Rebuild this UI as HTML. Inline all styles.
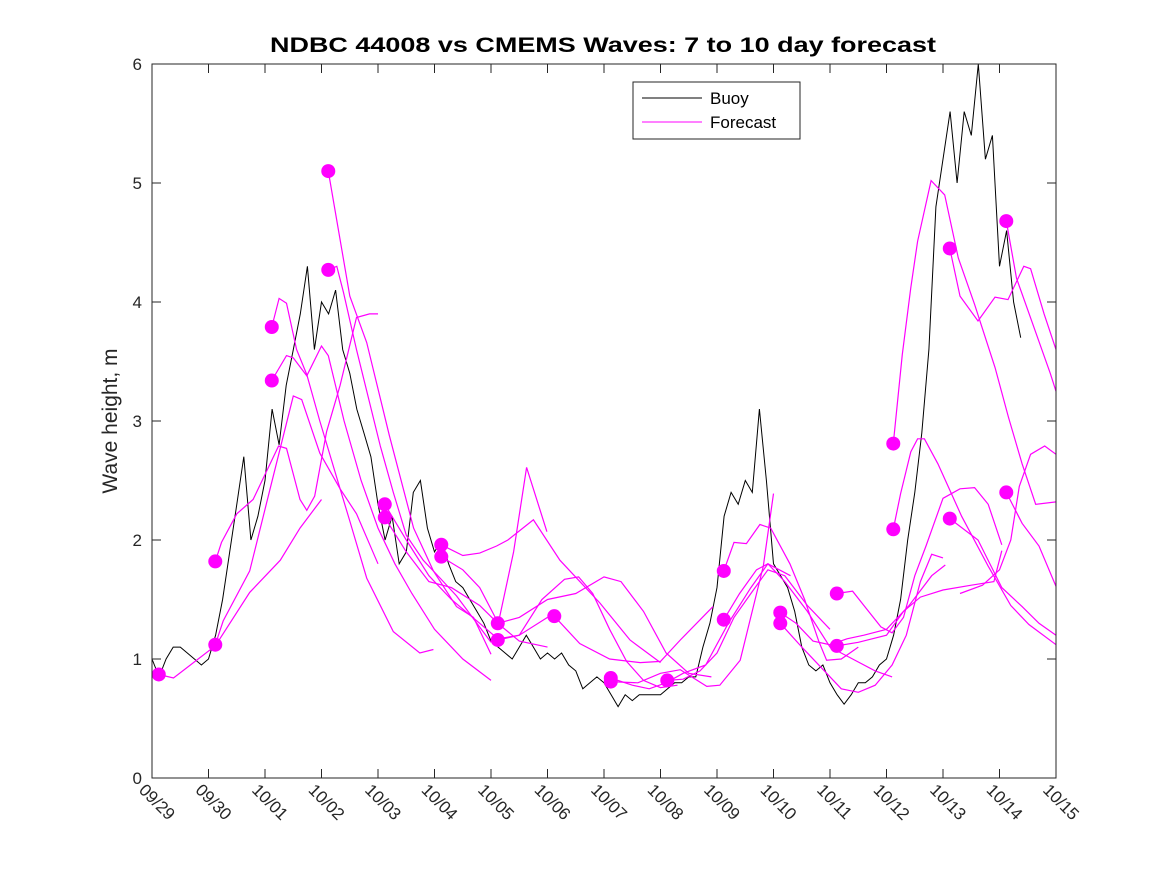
<!DOCTYPE html>
<html><head><meta charset="utf-8"><style>
html,body{margin:0;padding:0;background:#fff;}
svg{display:block;font-family:"Liberation Sans",sans-serif;}
</style></head><body>
<svg id="chart" width="1167" height="875" viewBox="0 0 1167 875" xmlns="http://www.w3.org/2000/svg">
<rect x="0" y="0" width="1167" height="875" fill="#fff"/>
<text x="603" y="52" text-anchor="middle" font-size="21" font-weight="bold" textLength="666" lengthAdjust="spacingAndGlyphs" fill="#000">NDBC 44008 vs CMEMS Waves: 7 to 10 day forecast</text>
<text transform="translate(117,421) rotate(-90)" text-anchor="middle" font-size="21" fill="#262626">Wave height, m</text>
<g id="plot"></g>
<g id="axes"></g>
<g>
<rect x="633" y="82" width="167" height="57" fill="#fff" stroke="#262626" stroke-width="1"/>
<line x1="642" y1="98" x2="702" y2="98" stroke="#000" stroke-width="1"/>
<text x="710" y="104" font-size="17" fill="#000">Buoy</text>
<line x1="642" y1="122" x2="702" y2="122" stroke="#ff00ff" stroke-width="1"/>
<text x="710" y="128" font-size="17" fill="#000">Forecast</text>
</g>
</svg>
<script>
const xTickLabels = ["09/29","09/30","10/01","10/02","10/03","10/04","10/05","10/06","10/07","10/08","10/09","10/10","10/11","10/12","10/13","10/14","10/15"];
const yTicks = [0,1,2,3,4,5,6];
const buoyStep = 0.125;
const buoyValues = [1.0,0.85,1.0,1.1,1.1,1.05,1.0,0.95,1.0,
1.2,1.5,1.9,2.3,2.7,2.0,2.2,2.5,
3.1,2.8,3.3,3.6,3.9,4.3,3.6,4.0,
3.9,4.1,3.6,3.4,3.1,2.9,2.7,2.3,
2.0,2.2,1.8,1.9,2.4,2.5,2.1,1.9,
2.0,1.8,1.65,1.6,1.5,1.4,1.3,1.15,
1.1,1.05,1.0,1.1,1.2,1.1,1.0,1.05,
1.0,1.05,0.95,0.9,0.75,0.8,0.85,0.8,
0.7,0.6,0.7,0.65,0.7,0.7,0.7,0.7,
0.75,0.8,0.8,0.85,0.85,1.1,1.3,1.6,
2.2,2.4,2.3,2.5,2.4,3.1,2.5,1.8,
1.7,1.6,1.4,1.1,0.95,0.9,0.95,0.8,
0.7,0.62,0.7,0.8,0.8,0.85,0.95,1.0,
1.2,1.5,2.0,2.4,2.9,3.6,4.8,5.2,
5.6,5.0,5.6,5.4,6.0,5.2,5.4,4.3,
4.6,4.0,3.7];
const dotDays = [0.12,1.12,1.12,2.12,2.12,3.12,3.12,4.12,4.12,5.12,5.12,6.12,6.12,7.12,8.12,8.12,9.12,10.12,10.12,11.12,11.12,12.12,12.12,13.12,13.12,14.12,14.12,15.12,15.12];
const dotValues = [0.87,1.12,1.82,3.79,3.34,5.1,4.27,2.3,2.19,1.96,1.86,1.3,1.16,1.36,0.84,0.81,0.82,1.74,1.33,1.39,1.3,1.55,1.11,2.81,2.09,4.45,2.18,4.68,2.4];
const forecast1 = [[0.12,0.87],[0.38,0.84],[1.12,1.11],[1.73,1.56],[2.27,1.83],[2.62,2.1],[3.0,2.34]];
const forecast2 = [[1.12,1.12],[1.26,1.32],[1.73,1.74],[2.09,2.43],[2.5,3.21],[2.65,3.18],[2.97,2.73],[3.33,2.43],[3.62,2.22],[4.0,1.8]];
const forecast3 = [[1.12,1.82],[1.23,1.98],[1.5,2.22],[1.79,2.34],[2.24,2.79],[2.38,2.77],[2.62,2.34],[2.74,2.25],[2.88,2.37],[3.09,2.91],[3.33,3.3],[3.62,3.87],[3.85,3.9],[4.0,3.9]];
const forecast4 = [[2.12,3.79],[2.25,4.03],[2.38,3.99],[2.56,3.6],[2.74,3.39],[2.97,3.0],[3.33,2.43],[3.5,2.16],[3.8,1.68],[4.27,1.23],[4.74,1.05],[4.98,1.08]];
const forecast5 = [[2.12,3.34],[2.38,3.55],[2.5,3.53],[2.74,3.38],[3.0,3.63],[3.12,3.55],[3.4,3.0],[3.7,2.5],[4.0,2.1],[4.3,1.8],[4.6,1.55],[5.0,1.25],[5.5,1.0],[6.0,0.82]];
const forecast6 = [[3.12,5.1],[3.5,4.05],[3.8,3.66],[4.2,2.88],[4.63,2.1],[4.98,1.74],[5.39,1.44],[5.69,1.35],[6.0,1.04]];
const forecast7 = [[3.12,4.27],[3.27,4.3],[3.39,4.08],[3.62,3.6],[4.04,2.79],[4.27,2.4],[4.5,2.04],[4.8,1.83],[5.1,1.68],[5.39,1.53],[6.0,1.14]];
const forecast8 = [[4.12,2.3],[4.5,2.0],[4.9,1.7],[5.3,1.5],[5.8,1.3],[6.12,1.17],[6.5,1.2],[7.0,1.35]];
const forecast9 = [[4.12,2.19],[4.5,1.9],[4.9,1.65],[5.3,1.6],[5.8,1.45],[6.12,1.3],[6.5,1.15],[7.0,1.1]];
const forecast10 = [[5.12,1.96],[5.5,1.87],[5.8,1.89],[6.1,1.95],[6.3,2.0],[6.75,2.17],[7.22,1.83],[7.93,1.47],[8.46,1.16],[9.0,0.97]];
const forecast11 = [[5.12,1.86],[5.5,1.75],[5.8,1.6],[6.13,1.3],[6.4,1.9],[6.63,2.61],[6.99,2.07]];
const forecast12 = [[6.12,1.16],[6.5,1.2],[6.9,1.5],[7.3,1.67],[7.55,1.69],[7.8,1.55],[8.1,1.25],[8.4,0.98],[8.7,0.82],[9.0,0.76],[9.3,0.78]];
const forecast13 = [[6.12,1.3],[6.5,1.35],[7.0,1.5],[7.5,1.55],[8.0,1.69],[8.3,1.65],[8.7,1.4],[9.1,1.05],[9.5,0.88],[9.9,0.85]];
const forecast14 = [[7.12,1.36],[7.57,1.13],[8.1,1.0],[8.64,0.97],[9.0,0.98],[9.35,1.16],[9.93,1.44]];
const forecast15 = [[8.12,0.84],[8.5,0.78],[8.8,0.75],[9.1,0.8],[9.4,0.88],[9.8,0.95],[10.2,1.3],[10.6,1.6],[10.9,1.8],[11.3,1.7]];
const forecast16 = [[8.12,0.81],[8.6,0.8],[9.0,0.88],[9.35,0.91],[9.82,0.77],[10.05,0.78],[10.41,0.99],[10.82,1.78],[11.0,2.39]];
const forecast17 = [[9.12,0.82],[9.4,0.83],[9.7,0.9],[10.0,1.05],[10.3,1.35],[10.6,1.55],[10.9,1.75],[11.2,1.7],[11.6,1.45],[12.0,1.25]];
const forecast18 = [[10.12,1.74],[10.3,1.98],[10.52,1.97],[10.76,2.13],[10.95,2.1],[11.29,1.8],[11.55,1.5],[11.8,1.15],[11.94,0.99],[12.2,1.0],[12.5,1.1]];
const forecast19 = [[10.12,1.33],[10.4,1.55],[10.7,1.75],[10.9,1.8],[11.2,1.65],[11.6,1.4],[12.0,1.1],[12.4,1.0],[12.8,0.9],[13.1,0.85]];
const forecast20 = [[11.12,1.39],[11.4,1.3],[11.7,1.15],[12.0,1.12],[12.3,1.17],[12.6,1.2],[13.0,1.25],[13.4,1.45],[13.8,1.7],[14.04,1.79]];
const forecast21 = [[11.12,1.3],[11.5,1.1],[11.9,0.9],[12.2,0.75],[12.5,0.72],[12.8,0.78],[13.1,0.95],[13.35,1.2],[13.6,1.65],[13.8,1.88],[14.0,1.85]];
const forecast22 = [[12.12,1.55],[12.4,1.57],[12.6,1.45],[12.9,1.27],[13.1,1.22],[13.3,1.35],[13.5,1.7],[13.7,1.95],[14.0,2.35],[14.3,2.43],[14.56,2.44],[14.8,2.3],[15.04,1.96]];
const forecast23 = [[12.12,1.11],[12.5,1.14],[13.0,1.2],[13.3,1.4],[13.6,1.52],[14.0,1.58],[14.5,1.62],[14.9,1.65],[15.04,1.91]];
const forecast24 = [[13.12,2.81],[13.28,3.56],[13.43,4.12],[13.55,4.51],[13.79,5.02],[14.03,4.9],[14.27,4.37],[14.56,3.98],[14.92,3.45],[15.16,3.03],[15.4,2.64],[15.64,2.3],[16.0,2.32]];
const forecast25 = [[13.12,2.09],[13.25,2.39],[13.43,2.74],[13.55,2.85],[13.67,2.85],[13.91,2.64],[14.33,2.2],[14.8,1.78],[15.2,1.45],[15.52,1.29],[16.0,1.12]];
const forecast26 = [[14.12,4.45],[14.3,4.05],[14.62,3.84],[14.92,4.04],[15.15,4.02],[15.43,4.3],[15.55,4.28],[15.79,3.9],[16.0,3.6]];
const forecast27 = [[14.12,2.18],[14.62,2.0],[15.04,1.6],[15.4,1.44],[15.7,1.3],[16.0,1.2]];
const forecast28 = [[15.12,4.68],[15.3,4.2],[15.6,3.8],[15.9,3.4],[16.0,3.25]];
const forecast29 = [[15.12,2.4],[15.4,2.14],[15.7,1.95],[16.0,1.61]];
const forecast30 = [[14.3,1.55],[14.7,1.62],[15.0,1.75],[15.2,2.0],[15.35,2.45],[15.55,2.72],[15.8,2.79],[16.0,2.72]];
const forecasts = [forecast1,forecast2,forecast3,forecast4,forecast5,forecast6,forecast7,forecast8,forecast9,forecast10,forecast11,forecast12,forecast13,forecast14,forecast15,forecast16,forecast17,forecast18,forecast19,forecast20,forecast21,forecast22,forecast23,forecast24,forecast25,forecast26,forecast27,forecast28,forecast29,forecast30];

const NS = "http://www.w3.org/2000/svg";
const L = 152, R = 1056, T = 64, B = 778;
const xMax = 16, yMax = 6;
function xs(d){ return L + d*(R-L)/xMax; }
function ys(v){ return B - v*(B-T)/yMax; }
const plot = document.getElementById('plot');
const axes = document.getElementById('axes');

const frame = document.createElementNS(NS,'rect');


frame.setAttribute('x',L); frame.setAttribute('y',T);
frame.setAttribute('width',R-L); frame.setAttribute('height',B-T);
frame.setAttribute('fill','none'); frame.setAttribute('stroke','#262626');
axes.appendChild(frame);

yTicks.forEach(function(v){
  const y = ys(v);
  const t1 = document.createElementNS(NS,'path');
  
  
  t1.setAttribute('d','M'+L+' '+y+'h9M'+R+' '+y+'h-9');
  t1.setAttribute('stroke','#262626');
  axes.appendChild(t1);
  const tx = document.createElementNS(NS,'text');
  
  
  tx.setAttribute('x',L-10); tx.setAttribute('y',y+6);
  tx.setAttribute('text-anchor','end'); tx.setAttribute('font-size','17'); tx.setAttribute('fill','#262626');
  tx.textContent = String(v);
  axes.appendChild(tx);
});
xTickLabels.forEach(function(lab,i){
  const x = xs(i);
  const t1 = document.createElementNS(NS,'path');
  
  
  t1.setAttribute('d','M'+x+' '+B+'v-9M'+x+' '+T+'v9');
  t1.setAttribute('stroke','#262626');
  axes.appendChild(t1);
  const tx = document.createElementNS(NS,'text');
  
  
  tx.setAttribute('transform','translate('+(x-14)+','+(B+13)+') rotate(45)');
  tx.setAttribute('font-size','17'); tx.setAttribute('fill','#262626');
  tx.textContent = lab;
  axes.appendChild(tx);
});

const bpts = buoyValues.map(function(v,i){ return xs(i*buoyStep).toFixed(1)+','+ys(v).toFixed(1); });
const buoy = document.createElementNS(NS,'polyline');


buoy.setAttribute('points', bpts.join(' '));
buoy.setAttribute('fill','none'); buoy.setAttribute('stroke','#000'); buoy.setAttribute('stroke-width','1');
plot.appendChild(buoy);

forecasts.forEach(function(f){
  const pl = document.createElementNS(NS,'polyline');
  
  
  pl.setAttribute('points', f.map(function(p){ return xs(p[0]).toFixed(1)+','+ys(p[1]).toFixed(1); }).join(' '));
  pl.setAttribute('fill','none'); pl.setAttribute('stroke','#ff00ff'); pl.setAttribute('stroke-width','1.2');
  plot.appendChild(pl);
});
dotDays.forEach(function(d,i){
  const c = document.createElementNS(NS,'circle');
  
  
  c.setAttribute('cx', xs(d)); c.setAttribute('cy', ys(dotValues[i])); c.setAttribute('r', 7);
  c.setAttribute('fill','#ff00ff');
  plot.appendChild(c);
});
</script>
</body></html>
